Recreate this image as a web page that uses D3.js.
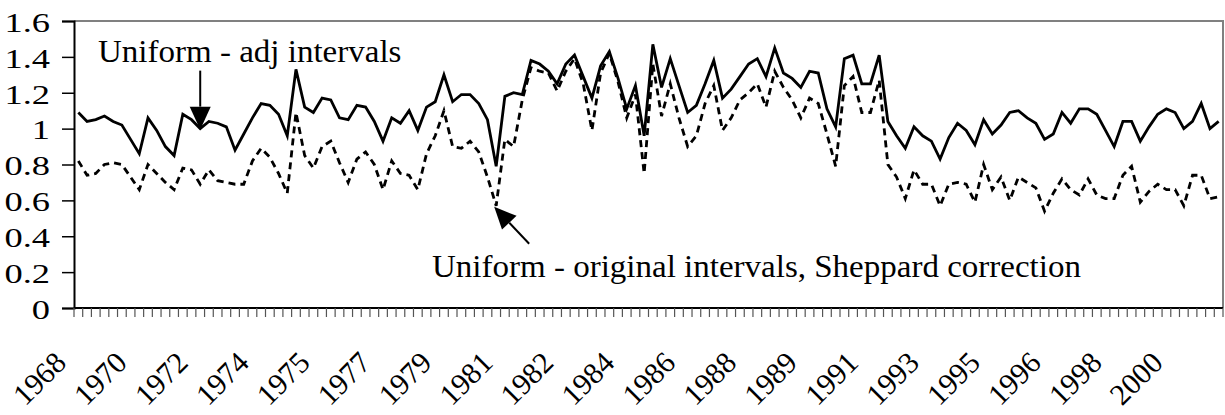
<!DOCTYPE html>
<html>
<head>
<meta charset="utf-8">
<script src="https://cdn.jsdelivr.net/npm/d3@7/dist/d3.min.js"></script>
<style>
  body { margin: 0; background: #fff; }
  svg text { font-family: "Liberation Serif", "Times New Roman", serif; fill: #000; }
</style>
</head>
<body>
<svg id="chart" width="1225" height="415"></svg>
<script>
// quarterly series, first quarter is 1968 Q4
let startYear = 1968, startQuarter = 4;
let tickEvery = 7;
let tickLabels = ['1968', '1970', '1972', '1974', '1975', '1977', '1979', '1981', '1982', '1984',
    '1986', '1988', '1989', '1991', '1993', '1995', '1996', '1998', '2000'];
let yTicks = [0, 0.2, 0.4, 0.6, 0.8, 1, 1.2, 1.4, 1.6];

// Uniform - adj intervals (solid)
let adjIntervals = [
    1.09, 1.04, 1.05, 1.07, 1.04, 1.02, 0.94, 0.86, 1.06, 0.99,
    0.90, 0.85, 1.08, 1.05, 1.00, 1.04, 1.03, 1.01, 0.88, 0.97,
    1.06, 1.14, 1.13, 1.08, 0.96, 1.33, 1.12, 1.09, 1.17, 1.16,
    1.06, 1.05, 1.13, 1.12, 1.04, 0.93, 1.06, 1.03, 1.10, 0.99,
    1.12, 1.15, 1.30, 1.15, 1.19, 1.19, 1.14, 1.05, 0.79, 1.18,
    1.20, 1.19, 1.38, 1.36, 1.32, 1.25, 1.36, 1.41, 1.29, 1.17,
    1.35, 1.43, 1.28, 1.11, 1.24, 0.96, 1.47, 1.23, 1.39, 1.24,
    1.09, 1.13, 1.25, 1.38, 1.17, 1.22, 1.29, 1.36, 1.39, 1.29,
    1.45, 1.31, 1.28, 1.23, 1.32, 1.31, 1.11, 1.01, 1.39, 1.41,
    1.25, 1.25, 1.41, 1.04, 0.96, 0.89, 1.01, 0.96, 0.93, 0.83,
    0.95, 1.03, 0.99, 0.91, 1.05, 0.97, 1.02, 1.09, 1.10, 1.06,
    1.03, 0.94, 0.97, 1.09, 1.03, 1.11, 1.11, 1.08, 0.99, 0.90,
    1.04, 1.04, 0.93, 1.01, 1.08, 1.11, 1.09, 1.00, 1.04, 1.14,
    1.00, 1.04
];

// Uniform - original intervals, Sheppard correction (dashed)
let sheppard = [
    0.82, 0.74, 0.75, 0.80, 0.81, 0.80, 0.73, 0.66, 0.80, 0.75,
    0.70, 0.66, 0.78, 0.77, 0.69, 0.77, 0.71, 0.70, 0.69, 0.69,
    0.82, 0.89, 0.84, 0.75, 0.64, 1.09, 0.85, 0.78, 0.90, 0.93,
    0.81, 0.70, 0.83, 0.87, 0.80, 0.66, 0.82, 0.75, 0.74, 0.66,
    0.86, 0.96, 1.10, 0.90, 0.89, 0.93, 0.87, 0.73, 0.57, 0.94,
    0.90, 1.16, 1.34, 1.32, 1.31, 1.21, 1.32, 1.39, 1.25, 0.99,
    1.31, 1.42, 1.26, 1.06, 1.19, 0.75, 1.36, 1.07, 1.25, 1.06,
    0.90, 0.96, 1.14, 1.24, 0.99, 1.06, 1.16, 1.20, 1.25, 1.12,
    1.32, 1.23, 1.16, 1.06, 1.17, 1.14, 0.97, 0.79, 1.24, 1.29,
    1.09, 1.09, 1.27, 0.80, 0.73, 0.61, 0.77, 0.69, 0.69, 0.57,
    0.69, 0.70, 0.69, 0.59, 0.80, 0.66, 0.73, 0.60, 0.73, 0.70,
    0.67, 0.54, 0.64, 0.72, 0.66, 0.63, 0.72, 0.63, 0.61, 0.61,
    0.74, 0.79, 0.59, 0.65, 0.69, 0.66, 0.66, 0.57, 0.74, 0.74,
    0.61, 0.62
];

let serif = '"Liberation Serif", "Times New Roman", serif';
let svg = d3.select('#chart');
let margin = { left: 74, right: 2, top: 21, bottom: 107 };
let W = +svg.attr('width'), H = +svg.attr('height');
let plotW = W - margin.left - margin.right, plotH = H - margin.top - margin.bottom;

// category per quarter
let cats = adjIntervals.map((v, i) => i);
let yearOf = i => String(startYear + Math.floor((startQuarter - 1 + i) / 4));

let x = d3.scaleBand().domain(cats).range([0, plotW]).padding(0);
let y = d3.scaleLinear().domain([0, 1.6]).range([plotH, 0]);
let cx = i => x(i) + x.bandwidth() / 2;

let g = svg.append('g').attr('transform', `translate(${margin.left},${margin.top})`);

// plot frame (grey top/right)
g.append('path')
    .attr('d', `M0,0H${plotW}V${plotH}`)
    .attr('fill', 'none').attr('stroke', '#808080').attr('stroke-width', 2);

// y axis (labels in the source are drawn wide, so stretch them sideways)
let yStretch = 1.35;
let yAxis = g.append('g').call(d3.axisLeft(y).tickValues(yTicks).tickSize(12)
    .tickFormat(d => String(+d.toFixed(1))));
yAxis.attr('font-family', serif);
yAxis.select('.domain').attr('stroke', '#000').attr('stroke-width', 2);
yAxis.selectAll('.tick line').attr('stroke', '#000').attr('stroke-width', 1.5);
yAxis.selectAll('.tick text')
    .attr('font-size', 27).attr('font-family', serif)
    .attr('x', -24 / yStretch).attr('dy', '0.38em')
    .attr('transform', `scale(${yStretch},1)`);

// x axis: ticks between categories, labels every 7th quarter
let xg = g.append('g').attr('transform', `translate(0,${plotH})`);
xg.append('line').attr('x1', 0).attr('x2', plotW).attr('stroke', '#000').attr('stroke-width', 2);
xg.selectAll('.xtick').data(d3.range(cats.length + 1)).enter()
    .append('line')
    .attr('class', 'xtick')
    .attr('x1', d => d * x.bandwidth()).attr('x2', d => d * x.bandwidth())
    .attr('y1', 0).attr('y2', 9)
    .attr('stroke', '#555').attr('stroke-width', 1.2);

let labelled = cats.filter(i => i % tickEvery == 0);
xg.selectAll('.xlabel').data(labelled).enter()
    .append('text')
    .attr('class', 'xlabel')
    .attr('transform', d => `translate(${cx(d) - 18},${49}) rotate(-45)`)
    .attr('text-anchor', 'end')
    .attr('dominant-baseline', 'central')
    .attr('font-family', serif)
    .attr('font-size', 30)
    .text((d, k) => tickLabels[k] || yearOf(d));

// lines
let line = d3.line().x((d, i) => cx(i)).y(d => y(d));
g.append('path').datum(sheppard)
    .attr('d', line)
    .attr('fill', 'none').attr('stroke', '#000').attr('stroke-width', 2.8)
    .attr('stroke-dasharray', '7 5');
g.append('path').datum(adjIntervals)
    .attr('d', line)
    .attr('fill', 'none').attr('stroke', '#000').attr('stroke-width', 2.8)
    .attr('stroke-linejoin', 'miter');

// annotations
function arrow(x0, y0, x1, y1, headLen, headW) {
    let dx = x1 - x0, dy = y1 - y0, len = Math.hypot(dx, dy);
    let ux = dx / len, uy = dy / len;
    let bx = x1 - ux * headLen, by = y1 - uy * headLen;
    g.append('line').attr('x1', x0).attr('y1', y0).attr('x2', bx).attr('y2', by)
        .attr('stroke', '#000').attr('stroke-width', 2);
    g.append('path')
        .attr('d', `M${x1},${y1}L${bx - uy * headW / 2},${by + ux * headW / 2}L${bx + uy * headW / 2},${by - ux * headW / 2}Z`)
        .attr('fill', '#000');
}

let noteStretch = 1.065;
function note(x0, y0, txt) {
    g.append('text')
        .attr('transform', `translate(${x0},${y0}) scale(${noteStretch},1)`)
        .attr('font-size', 31).attr('font-family', serif)
        .text(txt);
}

// arrow down to the solid line
arrow(cx(14), y(adjIntervals[14]) - 58, cx(14), y(adjIntervals[14]) + 1, 23, 21);
note(24, 41, 'Uniform - adj intervals');

// arrow up to the dashed dip
arrow(cx(48) + 33, y(sheppard[48]) + 38, cx(48) - 2, y(sheppard[48]) + 1, 22, 20);
note(358, 256, 'Uniform - original intervals, Sheppard correction');
</script>
</body>
</html>
